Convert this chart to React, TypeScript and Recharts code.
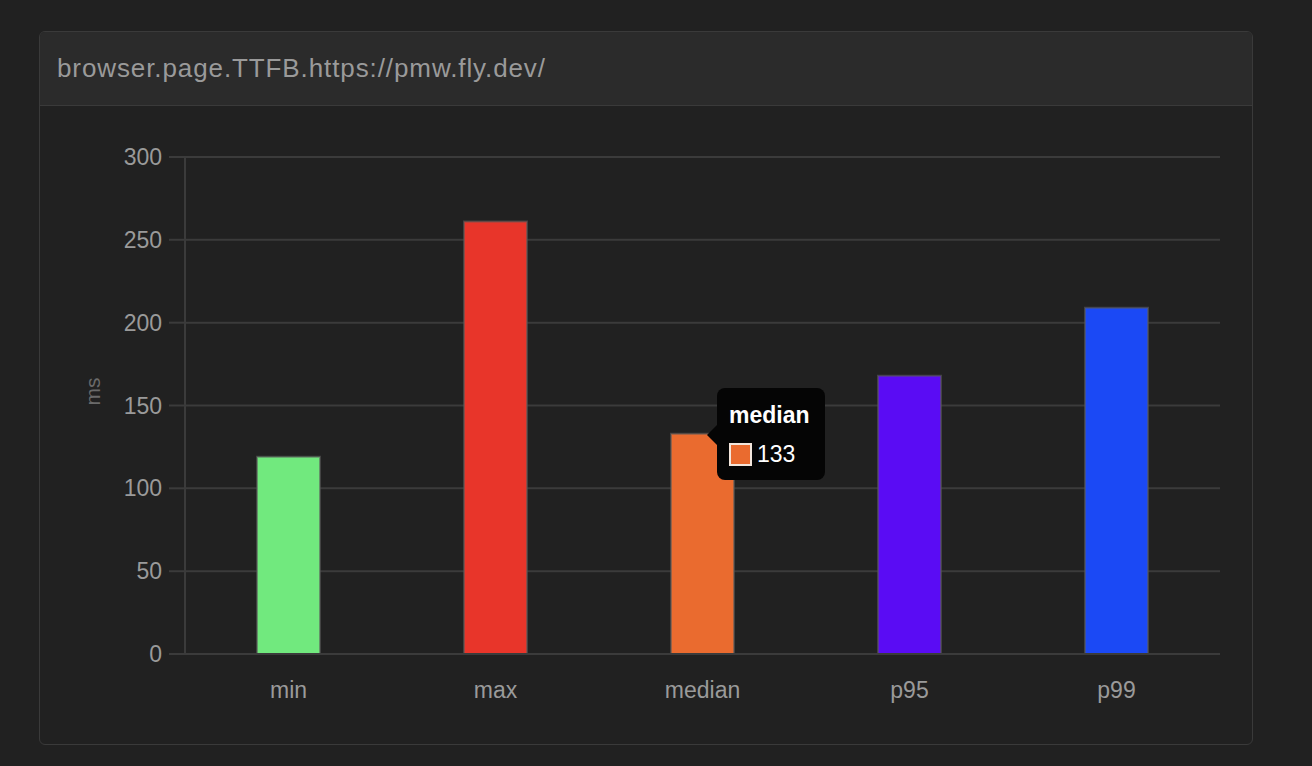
import { BarChart, Bar, Cell, CartesianGrid, Tooltip, XAxis, YAxis } from "recharts";

const categories = ["min", "max", "median", "p95", "p99"];
const values = [119, 261, 133, 168, 209];
const barColors = ["#71e97e", "#e8352a", "#ea6b2f", "#5a0cf4", "#1b49f5"];
const yTicks = [0, 50, 100, 150, 200, 250, 300];

const data = categories.map((name, i) => ({ name, value: values[i] }));

const FONT = '"Liberation Sans", Helvetica, Arial, sans-serif';

const MedianTip = ({ active, payload }: any) => {
  if (!active || !payload || !payload.length) return null;
  const p = payload[0];
  const idx = categories.indexOf(p.payload.name);
  return (
    <div style={{ position: "relative", fontFamily: FONT }}>
      <div
        style={{
          position: "absolute",
          left: -10,
          top: 37,
          width: 0,
          height: 0,
          borderTop: "10px solid transparent",
          borderBottom: "10px solid transparent",
          borderRight: "10px solid #050505",
        }}
      />
      <div
        style={{
          background: "#050505",
          borderRadius: 8,
          padding: "14px 12px 14px 12px",
          color: "#fff",
          width: 84,
        }}
      >
        <div style={{ fontWeight: "bold", fontSize: 23, lineHeight: "26px", marginBottom: 14 }}>{p.payload.name}</div>
        <div style={{ display: "flex", alignItems: "center", fontSize: 23, lineHeight: "24px" }}>
          <span
            style={{
              display: "inline-block",
              width: 19,
              height: 19,
              background: barColors[idx],
              border: "2px solid #f3e6dc",
              marginRight: 5,
            }}
          />
          {p.value}
        </div>
      </div>
    </div>
  );
};

const App = () => {
  return (
    <div style={{ position: "fixed", left: 0, top: 0, width: 1312, height: 766, background: "#212121" }}>
      <div
        style={{
          position: "absolute",
          left: 39,
          top: 31,
          width: 1212,
          height: 712,
          border: "1px solid #3a3a3a",
          borderRadius: 6,
          overflow: "hidden",
          background: "#212121",
        }}
      >
        <div
          style={{
            height: 73,
            background: "#2b2b2b",
            borderBottom: "1px solid #3a3a3a",
            display: "flex",
            alignItems: "center",
            paddingLeft: 17,
            fontFamily: FONT,
            fontSize: 26,
            letterSpacing: 0.9,
            color: "#9a9a9a",
          }}
        >
          browser.page.TTFB.https://pmw.fly.dev/
        </div>
        <BarChart
          width={1212}
          height={638}
          data={data}
          margin={{ top: 51, right: 32, left: 0, bottom: 40 }}
          style={{ fontFamily: FONT }}
        >
          <CartesianGrid vertical={false} stroke="#3b3b3b" strokeWidth={2} />
          <XAxis
            dataKey="name"
            axisLine={{ stroke: "#3b3b3b", strokeWidth: 2 }}
            tickLine={false}
            tick={{ fill: "#9a9a9a", fontSize: 23 }}
            tickMargin={22}
            height={50}
          />
          <YAxis
            domain={[0, 300]}
            ticks={yTicks}
            width={145}
            axisLine={{ stroke: "#3b3b3b", strokeWidth: 2 }}
            tickLine={{ stroke: "#3b3b3b", strokeWidth: 2 }}
            tickSize={16}
            tickMargin={7}
            tick={{ fill: "#9a9a9a", fontSize: 23 }}
            label={{ value: "ms", angle: -90, position: "insideLeft", offset: 53, fill: "#6a6a6a", fontSize: 21 }}
          />
          <Tooltip
            active={true}
            defaultIndex={2}
            cursor={false}
            isAnimationActive={false}
            position={{ x: 677, y: 282 }}
            content={<MedianTip />}
            wrapperStyle={{ outline: "none" }}
          />
          <Bar dataKey="value" barSize={63} stroke="rgba(90,90,90,0.6)" strokeWidth={2} isAnimationActive={false}>
            {data.map((d, i) => (
              <Cell key={d.name} fill={barColors[i]} />
            ))}
          </Bar>
        </BarChart>
      </div>
    </div>
  );
};

export default App;
